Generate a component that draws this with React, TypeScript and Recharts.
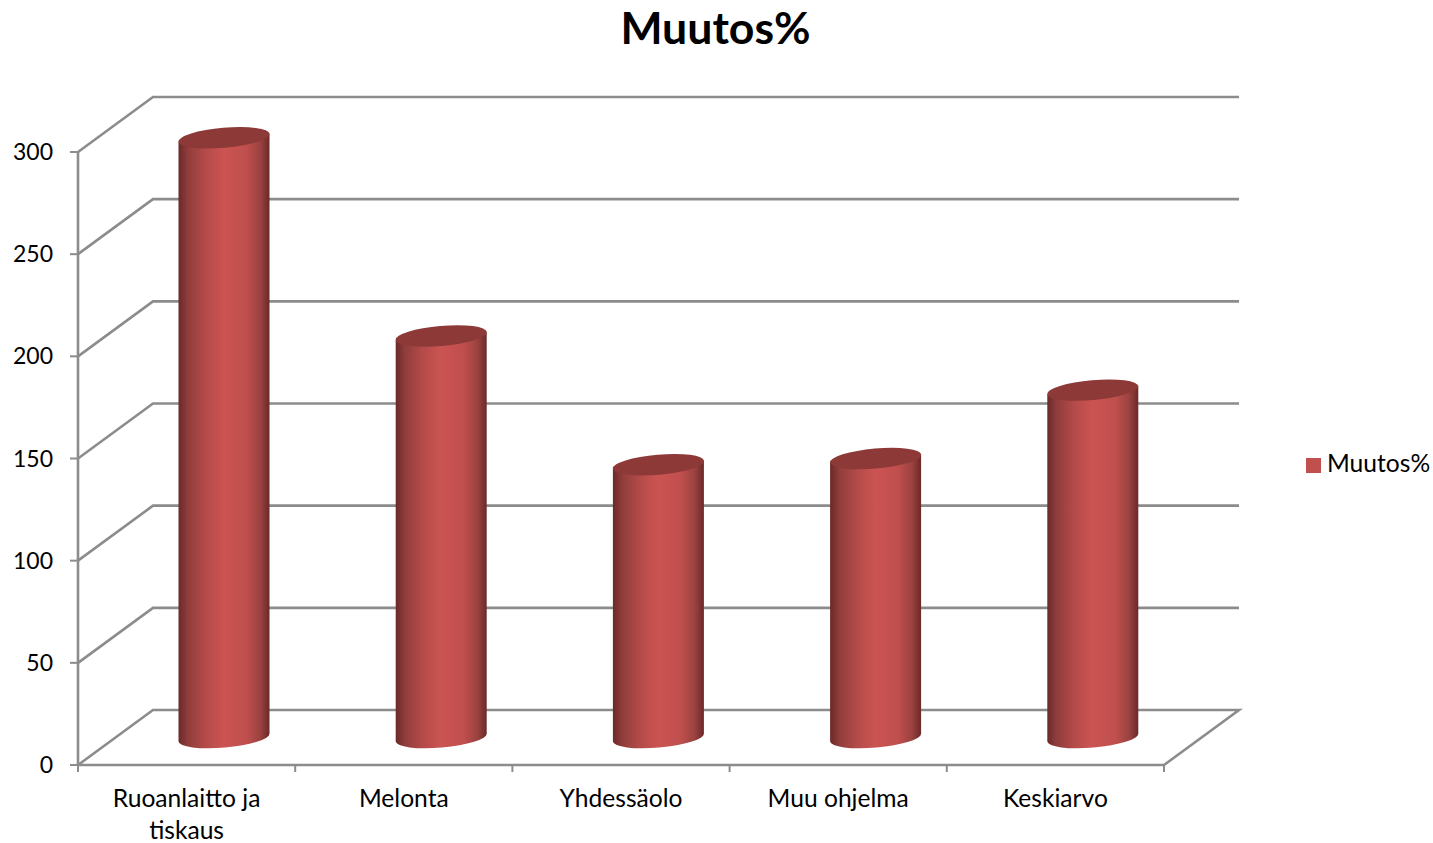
import { Bar, BarChart, CartesianGrid, Legend, XAxis, YAxis } from "recharts";

const categories = ["Ruoanlaitto ja tiskaus", "Melonta", "Yhdessäolo", "Muu ohjelma", "Keskiarvo"];
const categoryLines = [["Ruoanlaitto ja", "tiskaus"], ["Melonta"], ["Yhdessäolo"], ["Muu ohjelma"], ["Keskiarvo"]];
const muutos = [293.5, 196.5, 133.5, 136.5, 170];
const yTicks = [0, 50, 100, 150, 200, 250, 300];

const data = categories.map((name, i) => ({ name, muutos: muutos[i] }));

const FONT = "Lato, sans-serif";
const AXIS = "#8c8c8c";
// how far the back wall sits from the front plane
const DX = 75;
const DY = 55;
const BAND = 217.2;

function gridLine(props: any) {
  const { x1, x2, y1 } = props;
  let d = `M${x1} ${y1} L${x1 + DX} ${y1 - DY} L${x2 + DX} ${y1 - DY}`;
  // value 0 is the floor, close it on the right side
  if (Math.abs(y1 - 765) < 1) d += ` L${x2} ${y1}`;
  return <path key={`grid-${y1}`} d={d} fill="none" stroke={AXIS} strokeWidth={2.6} />;
}

function CategoryTick(props: any) {
  const { x, index } = props;
  const tickY = 765;
  return (
    <g>
      <line x1={x - BAND / 2} x2={x - BAND / 2} y1={tickY} y2={tickY + 7} stroke={AXIS} strokeWidth={2} />
      {index === categories.length - 1 && (
        <line x1={x + BAND / 2} x2={x + BAND / 2} y1={tickY} y2={tickY + 7} stroke={AXIS} strokeWidth={2} />
      )}
      <text textAnchor="middle" fontFamily={FONT} fontSize={24.6} fill="#000">
        {categoryLines[index].map((line, i) => (
          <tspan key={line} x={x} y={tickY + 42 + i * 32}>
            {line}
          </tspan>
        ))}
      </text>
    </g>
  );
}

function Cylinder(props: any) {
  const { x, y, width, height } = props;
  const left = x + DX / 2;
  const right = left + width;
  const cx = left + width / 2;
  const top = y - DY / 2;
  const bottom = y + height - DY / 2;
  const rx = width / 2;
  const ry = 10;
  const tilt = -5;
  const lift = 4;
  return (
    <g>
      <path
        d={`M${left} ${top + lift} L${left} ${bottom + lift} A${rx} ${ry} ${tilt} 0 0 ${right} ${bottom - lift} L${right} ${top - lift} Z`}
        fill="url(#cylinderFill)"
      />
      <ellipse cx={cx} cy={top} rx={rx + 0.3} ry={ry} transform={`rotate(${tilt} ${cx} ${top})`} fill="#8d3937" />
    </g>
  );
}

export default function App() {
  return (
    <div style={{ position: "absolute", left: 0, top: 0, width: 1433, height: 843, background: "#fff" }}>
      <div
        style={{
          position: "absolute",
          left: 0,
          top: -1,
          width: 1431,
          textAlign: "center",
          fontFamily: FONT,
          fontWeight: 700,
          fontSize: 44.6,
          lineHeight: "56px",
          color: "#000",
        }}
      >
        Muutos%
      </div>
      <BarChart
        width={1433}
        height={843}
        data={data}
        barSize={91}
        margin={{ top: 152, right: 136, bottom: 18, left: 18 }}
      >
        <defs>
          <linearGradient id="cylinderFill" x1="0" y1="0" x2="1" y2="0">
            <stop offset="0%" stopColor="#6a2928" />
            <stop offset="10%" stopColor="#8f3d3b" />
            <stop offset="30%" stopColor="#b44b49" />
            <stop offset="50%" stopColor="#cb5452" />
            <stop offset="75%" stopColor="#bf4f4d" />
            <stop offset="90%" stopColor="#9a4240" />
            <stop offset="100%" stopColor="#6a2928" />
          </linearGradient>
        </defs>
        <CartesianGrid vertical={false} horizontal={gridLine} />
        <XAxis
          dataKey="name"
          height={60}
          axisLine={{ stroke: AXIS, strokeWidth: 2.6 }}
          tickLine={false}
          interval={0}
          tick={CategoryTick}
        />
        <YAxis
          width={60}
          domain={[0, 300]}
          ticks={yTicks}
          tickSize={8}
          tickMargin={17}
          axisLine={{ stroke: AXIS, strokeWidth: 2.6 }}
          tickLine={{ stroke: AXIS, strokeWidth: 2 }}
          tick={{ fontFamily: FONT, fontSize: 23, fill: "#000" }}
        />
        <Legend
          layout="vertical"
          align="right"
          verticalAlign="middle"
          width={133}
          iconType="square"
          iconSize={15}
          wrapperStyle={{ left: 1306, top: 448, fontFamily: FONT, fontSize: 24.6, whiteSpace: "nowrap" }}
          formatter={(value: string) => <span style={{ color: "#000", paddingLeft: 2, whiteSpace: "nowrap" }}>{value}</span>}
        />
        <Bar dataKey="muutos" name="Muutos%" fill="#c0504d" shape={Cylinder} isAnimationActive={false} />
      </BarChart>
    </div>
  );
}
